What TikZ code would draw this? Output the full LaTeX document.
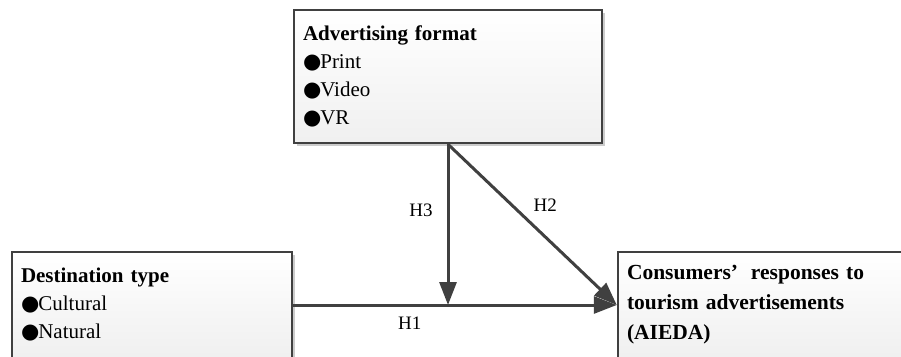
\documentclass[tikz,border=0pt]{standalone}
\usepackage{fontspec}
\setmainfont{Liberation Serif}
\newfontfamily\symfont{DejaVu Sans}
\usetikzlibrary{arrows.meta,positioning,shadows}
\definecolor{edgegray}{HTML}{404040}
\newcommand{\bul}{{\symfont ●}\kern-1pt}

\begin{document}
\begin{tikzpicture}[
    x=1pt, y=-1pt,
    box/.style={draw=edgegray, line width=2.5pt, top color=white, bottom color=gray!12,
        align=left, inner xsep=9pt, inner ysep=0pt, font=\fontsize{21}{28}\selectfont,
        drop shadow={shadow xshift=2.5pt, shadow yshift=-2.5pt, fill=gray!40, opacity=1}},
    link/.style={draw=edgegray, line width=3pt, -{Triangle[length=23pt,width=17pt]}},
    hlabel/.style={font=\fontsize{19}{19}\selectfont, inner sep=0pt}
]
\useasboundingbox (0,0) rectangle (901,356);

% Variablen
\node[box, text width=290pt, minimum height=133pt] (fmt) at (448,76.5)
    {\textbf{Advertising format}\\\bul Print\\\bul Video\\\bul VR};
\node[box, text width=262pt, minimum height=106pt] (dest) at (152,305)
    {\textbf{Destination type}\\\bul Cultural\\\bul Natural};
\node[box, text width=274pt, minimum height=106pt, font=\fontsize{21.5}{30}\selectfont] (resp) at (764,305)
    {\textbf{Consumers’\hspace{0.6em}responses to}\\\textbf{tourism advertisements}\\\textbf{(AIEDA)}};

% Hypothesen
\coordinate (meet) at (fmt.south |- dest.east);
\draw[link] (dest.east) -- node[hlabel, pos=0.36, below=10pt] (h1) {H1} (resp.west);
\draw[link] (fmt.south) -- node[hlabel, pos=0.465, above right=8pt] (h2) {H2} (resp.west);
\draw[link] (fmt.south) -- node[hlabel, pos=0.41, left=14pt] (h3) {H3} (meet);

\end{tikzpicture}
\end{document}
